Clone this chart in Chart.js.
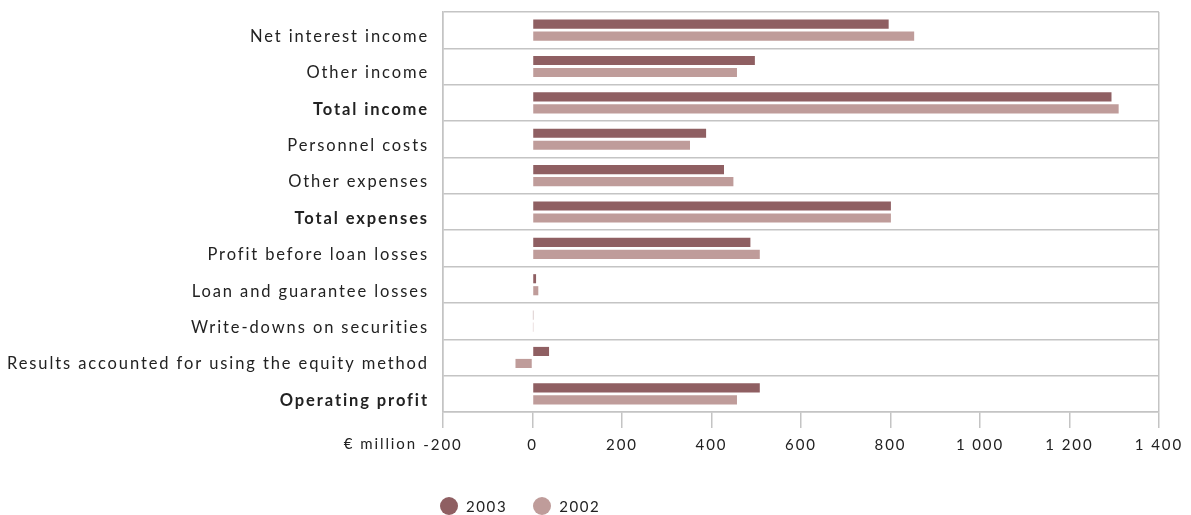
<!DOCTYPE html>
<html>
<head>
<meta charset="utf-8">
<script src="https://cdn.jsdelivr.net/npm/chart.js@4.4.1/dist/chart.umd.min.js"></script>
<style>
  html,body{margin:0;padding:0;background:#fff;}
  #wrap{position:relative;width:1191px;height:515px;}
  #legend{position:absolute;left:440px;top:497px;display:flex;align-items:center;font:15px Lato,sans-serif;letter-spacing:1.6px;color:#222;}
  #legend span.dot{display:inline-block;width:18px;height:18px;border-radius:50%;margin-right:8px;}
  #legend .item{display:flex;align-items:center;margin-right:26px;}
</style>
</head>
<body>
<div id="wrap">
  <canvas id="c" width="1191" height="515"></canvas>
  <div id="legend"></div>
</div>
<script>
const categories = ['Net interest income','Other income','Total income','Personnel costs','Other expenses','Total expenses','Profit before loan losses','Loan and guarantee losses','Write-downs on securities','Results accounted for using the equity method','Operating profit'];
const boldRows = ['Total income','Total expenses','Operating profit'];
const v2003 = [796, 497, 1294, 388, 428, 801, 487, 8, 1, 37, 508];
const v2002 = [853, 457, 1310, 352, 449, 801, 508, 13, 1, -38, 457];
const xTicks = [-200, 0, 200, 400, 600, 800, 1000, 1200, 1400];
const colors = { '2003': '#8f5f62', '2002': '#bf9c9a' };
const GRID = '#c4c4c4';

const fmt = v => String(v).replace(/\B(?=(\d{3})+(?!\d))/g, ' ');

// canvas letter spacing, applied before measuring and drawing
const spacing = {
  id: 'spacing',
  beforeLayout(chart){ chart.ctx.letterSpacing = '1.9px'; },
  beforeDraw(chart){ chart.ctx.letterSpacing = '1.9px'; },
  afterDraw(chart){
    const ctx = chart.ctx, x = chart.scales.x;
    ctx.save();
    ctx.font = '15px Lato, sans-serif';
    ctx.fillStyle = '#222';
    ctx.textAlign = 'right';
    ctx.textBaseline = 'middle';
    ctx.fillText('€ million', x.left - 26, 444);
    ctx.restore();
  }
};

new Chart(document.getElementById('c'), {
  type: 'bar',
  data: {
    labels: categories,
    datasets: [
      { label: '2003', data: v2003, backgroundColor: colors['2003'] },
      { label: '2002', data: v2002, backgroundColor: colors['2002'] }
    ]
  },
  options: {
    indexAxis: 'y',
    responsive: false,
    animation: false,
    categoryPercentage: 0.66,
    barPercentage: 0.76,
    layout: { padding: { top: 12, right: 31, left: 0, bottom: 0 } },
    plugins: { legend: { display: false }, tooltip: { enabled: false } },
    scales: {
      x: {
        min: -200, max: 1400,
        afterBuildTicks: s => { s.ticks = xTicks.map(v => ({ value: v })); },
        afterFit: s => { s.height = 103; },
        grid: {
          color: c => (c.index === 0 || c.index === xTicks.length - 1) ? GRID : 'rgba(0,0,0,0)',
          tickColor: GRID, tickLength: 16, lineWidth: 1.5
        },
        border: { color: GRID, width: 1.5 },
        ticks: { color: '#222', font: { family: 'Lato', size: 15 }, padding: 8, callback: v => fmt(v) }
      },
      y: {
        afterFit: s => { s.width = 443; s.paddingTop = 0; s.paddingBottom = 0; },
        grid: { color: GRID, lineWidth: 1.5, drawTicks: false },
        border: { color: GRID, width: 1.5 },
        ticks: {
          color: '#222', padding: 14, labelOffset: 6.5,
          font: c => ({ family: 'Lato', size: 16.5, weight: boldRows.includes(categories[c.index]) ? 'bold' : 'normal' })
        }
      }
    }
  },
  plugins: [spacing]
});

document.getElementById('legend').innerHTML = ['2003','2002'].map(k =>
  `<div class="item"><span class="dot" style="background:${colors[k]}"></span>${k}</div>`).join('');
</script>
</body>
</html>
